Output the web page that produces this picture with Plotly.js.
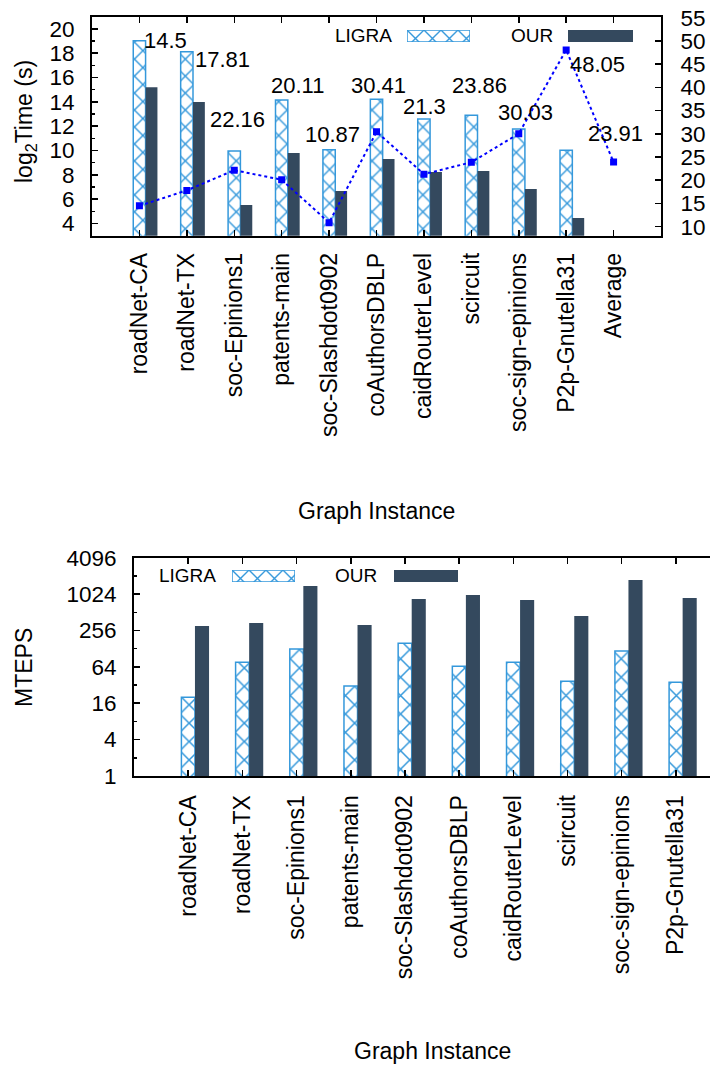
<!DOCTYPE html>
<html>
<head>
<meta charset="utf-8">
<script src="https://cdn.plot.ly/plotly-3.0.1.min.js"></script>
<style>
  html, body { margin: 0; padding: 0; background: #ffffff; }
  #chart { width: 710px; height: 1065px; }
</style>
</head>
<body>
<div id="chart"></div>
<script>
// ---------- data ----------
const topCategories = ["roadNet-CA", "roadNet-TX", "soc-Epinions1", "patents-main", "soc-Slashdot0902",
  "coAuthorsDBLP", "caidRouterLevel", "scircuit", "soc-sign-epinions", "P2p-Gnutella31", "Average"];
const bottomCategories = ["roadNet-CA", "roadNet-TX", "soc-Epinions1", "patents-main", "soc-Slashdot0902",
  "coAuthorsDBLP", "caidRouterLevel", "scircuit", "soc-sign-epinions", "P2p-Gnutella31"];

// top chart: log2 Time (s)
const ligraTime = [19.03, 18.12, 9.96, 14.16, 10.07, 14.21, 12.59, 12.9, 11.77, 10.02];
const ourTime   = [15.2, 13.99, 5.53, 9.8, 6.68, 9.31, 8.24, 8.32, 6.84, 4.46];
// speedup line (right axis)
const speedup   = [14.5, 17.81, 22.16, 20.11, 10.87, 30.41, 21.3, 23.86, 30.03, 48.05, 23.91];

// bottom chart: MTEPS
const ligraMTEPS = [20.1, 76, 126, 30.9, 157, 65.3, 76, 37, 117, 35.5];
const ourMTEPS   = [304, 340, 1397, 315, 849, 989, 819, 445, 1755, 884];
const mtepsTickVals = [1, 4, 16, 64, 256, 1024, 4096];

const legendNames = ["LIGRA", "OUR"];

// ---------- layout helpers (positions only) ----------
const W = 710, H = 1065;
const px = x => x / W;
const py = y => 1 - y / H;

// speedup label placement (style/position, not data)
const labelDx = [26, 36, 3, 16, 3, 1.5, 1, 8, 7, 31, 1.5];
const labelY  = [19.03, 17.52, 12.59, 15.31, 11.30, 15.31, 13.58, 15.31, 13.09, 17.09, 11.36];

const FONT = "Liberation Sans, Arial, Helvetica, sans-serif";
const BLUE = "#3498db";
const DARK = "#34495e";

const idxTop = topCategories.map((_, i) => i);
const idxBars = ligraTime.map((_, i) => i);
const idxBottom = bottomCategories.map((_, i) => i);

const hatch = size => ({ shape: "x", fgcolor: BLUE, bgcolor: "white", size: size, solidity: 0.22 });

const traces = [
  // top chart
  { type: "bar", x: idxBars, y: ligraTime, xaxis: "x", yaxis: "y", width: 0.26, offset: -0.13,
    marker: { color: "white", pattern: hatch(12), line: { color: BLUE, width: 1.5 } }, showlegend: false },
  { type: "bar", x: idxBars, y: ourTime, xaxis: "x", yaxis: "y", width: 0.25, offset: 0.13,
    marker: { color: DARK, line: { width: 0 } }, showlegend: false },
  { type: "scatter", mode: "lines+markers", x: idxTop, y: speedup, xaxis: "x", yaxis: "y2",
    line: { color: "#0000ff", dash: "dot", width: 2 },
    marker: { symbol: "square", size: 7, color: "#0000ff" }, showlegend: false },
  // bottom chart
  { type: "bar", x: idxBottom, y: ligraMTEPS, xaxis: "x2", yaxis: "y3", width: 0.25, offset: -0.125,
    marker: { color: "white", pattern: hatch(13), line: { color: BLUE, width: 1.5 } }, showlegend: false },
  { type: "bar", x: idxBottom, y: ourMTEPS, xaxis: "x2", yaxis: "y3", width: 0.26, offset: 0.125,
    marker: { color: DARK, line: { width: 0 } }, showlegend: false },
  // legend swatches
  { type: "bar", x: [0], y: [1], width: 1, xaxis: "x3", yaxis: "y4",
    marker: { color: "white", pattern: hatch(12), line: { color: BLUE, width: 1.5 } }, showlegend: false },
  { type: "bar", x: [0], y: [1], width: 1, xaxis: "x4", yaxis: "y5",
    marker: { color: DARK, line: { width: 0 } }, showlegend: false },
  { type: "bar", x: [0], y: [1], width: 1, xaxis: "x5", yaxis: "y6",
    marker: { color: "white", pattern: hatch(12), line: { color: BLUE, width: 1.5 } }, showlegend: false },
  { type: "bar", x: [0], y: [1], width: 1, xaxis: "x6", yaxis: "y7",
    marker: { color: DARK, line: { width: 0 } }, showlegend: false }
];

const axCommon = {
  showgrid: false, zeroline: false, showline: true, linecolor: "#000", linewidth: 2,
  ticks: "inside", ticklen: 6, tickwidth: 1.5, tickcolor: "#000",
  tickfont: { family: FONT, size: 22.5, color: "#000" }
};

const swatchX = (d, a) => ({ domain: d, range: [-0.5, 0.5], visible: false, anchor: a, fixedrange: true });
const swatchY = (d, a) => ({ domain: d, range: [0, 1], visible: false, anchor: a, fixedrange: true });

const annotations = [];
speedup.forEach((v, i) => {
  annotations.push({ x: i, y: labelY[i], xref: "x", yref: "y", xshift: labelDx[i],
    text: String(v), showarrow: false, xanchor: "center", yanchor: "middle",
    font: { family: FONT, size: 22, color: "#000" } });
});
const txt = (x, y, text, opts) => Object.assign({ x: px(x), y: py(y), xref: "paper", yref: "paper",
  text: text, showarrow: false, font: { family: FONT, size: 23, color: "#000" } }, opts || {});
annotations.push(txt(25, 122, "log<sub>2</sub>Time (s)", { textangle: -90, xanchor: "center", yanchor: "middle" }));
annotations.push(txt(376, 511, "Graph Instance", { xanchor: "center", yanchor: "middle" }));
annotations.push(txt(24, 667, "MTEPS", { textangle: -90, xanchor: "center", yanchor: "middle" }));
annotations.push(txt(432, 1051, "Graph Instance", { xanchor: "center", yanchor: "middle" }));
// legend texts
const legFont = { family: FONT, size: 19, color: "#000" };
annotations.push(txt(394, 36, legendNames[0], { xanchor: "right", yanchor: "middle", font: legFont }));
annotations.push(txt(555, 36, legendNames[1], { xanchor: "right", yanchor: "middle", font: legFont }));
annotations.push(txt(218, 576, legendNames[0], { xanchor: "right", yanchor: "middle", font: legFont }));
annotations.push(txt(379, 576, legendNames[1], { xanchor: "right", yanchor: "middle", font: legFont }));

const layout = {
  width: W, height: H,
  margin: { l: 0, r: 0, t: 0, b: 0, pad: 0 },
  paper_bgcolor: "#ffffff", plot_bgcolor: "#ffffff",
  barmode: "overlay",
  showlegend: false,
  font: { family: FONT, color: "#000" },
  xaxis: Object.assign({}, axCommon, {
    domain: [px(92), px(661)], anchor: "y", range: [-1, 11],
    tickvals: idxTop, ticktext: topCategories, tickangle: -90, mirror: "ticks",
    ticklabelstandoff: 6, tickfont: { family: FONT, size: 23, color: "#000" }
  }),
  yaxis: Object.assign({}, axCommon, {
    domain: [py(235.7), py(16.7)], anchor: "x", range: [3, 21],
    tick0: 0, dtick: 2, mirror: true, ticklabelstandoff: 11,
    minor: { dtick: 1, ticks: "inside", ticklen: 3, tickwidth: 1.5, tickcolor: "#000" }
  }),
  yaxis2: Object.assign({}, axCommon, {
    overlaying: "y", side: "right", anchor: "x", range: [8.06, 55.2],
    tick0: 0, dtick: 5, ticklabelstandoff: 13
  }),
  xaxis2: Object.assign({}, axCommon, {
    domain: [px(134), 1], anchor: "y3", range: [-1, 9.63],
    tickvals: idxBottom, ticktext: bottomCategories, tickangle: -90, mirror: "ticks",
    ticklabelstandoff: 8, tickfont: { family: FONT, size: 23, color: "#000" }
  }),
  yaxis3: Object.assign({}, axCommon, {
    domain: [py(776), py(557.7)], anchor: "x2", type: "log", range: [0, Math.log10(4096)],
    tickvals: mtepsTickVals, ticktext: mtepsTickVals.map(String), ticklabelstandoff: 11,
    minor: { tickvals: [2, 8, 32, 128, 512, 2048], ticks: "inside", ticklen: 3, tickwidth: 1.5, tickcolor: "#000" }
  }),
  xaxis3: swatchX([px(407), px(470)], "y4"),
  yaxis4: swatchY([py(42), py(30)], "x3"),
  xaxis4: swatchX([px(568), px(633)], "y5"),
  yaxis5: swatchY([py(42), py(30)], "x4"),
  xaxis5: swatchX([px(232), px(295)], "y6"),
  yaxis6: swatchY([py(582), py(570)], "x5"),
  xaxis6: swatchX([px(394), px(458)], "y7"),
  yaxis7: swatchY([py(582), py(570)], "x6"),
  annotations: annotations
};

Plotly.newPlot("chart", traces, layout, { displayModeBar: false, staticPlot: true });
</script>
</body>
</html>
